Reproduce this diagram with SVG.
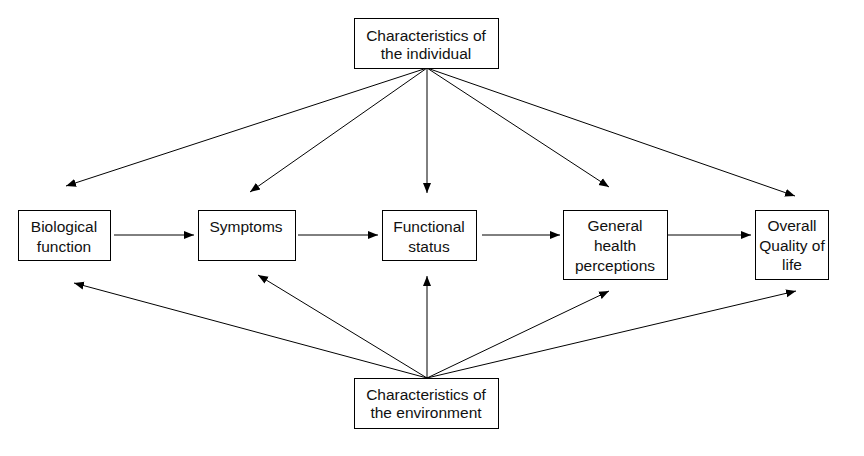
<svg xmlns="http://www.w3.org/2000/svg" width="864" height="456" viewBox="0 0 864 456">
<style>
rect{fill:#fff;stroke:#000;stroke-width:1}
text{font-family:"Liberation Sans",Arial,sans-serif;font-size:15.5px;fill:#111;text-anchor:middle}
.c line{stroke:#000;stroke-width:1;marker-end:url(#a)}
</style>
<defs>
<marker id="a" viewBox="0 0 10 10" refX="10" refY="5" markerWidth="10" markerHeight="10" markerUnits="userSpaceOnUse" orient="auto">
<path d="M0,1 L10,5 L0,9 Z" fill="#000"/>
</marker>
</defs>
<rect x="0" y="0" width="864" height="456" style="stroke:none"/>
<g class="c">
<line x1="427" y1="68" x2="66" y2="186"/>
<line x1="427" y1="68" x2="250" y2="192"/>
<line x1="427" y1="68" x2="427" y2="193"/>
<line x1="427" y1="68" x2="609" y2="187"/>
<line x1="427" y1="68" x2="795" y2="196"/>
<line x1="427" y1="378" x2="74" y2="283"/>
<line x1="427" y1="378" x2="258" y2="275"/>
<line x1="427" y1="378" x2="427" y2="276"/>
<line x1="427" y1="378" x2="609" y2="291"/>
<line x1="427" y1="378" x2="796" y2="291"/>
<line x1="114" y1="235" x2="194" y2="235"/>
<line x1="298" y1="235" x2="378" y2="235"/>
<line x1="482" y1="235" x2="560" y2="235"/>
<line x1="667" y1="235" x2="751" y2="235"/>
</g>
<g id="individual"><rect x="354.5" y="18.5" width="144" height="50"/><text x="426" y="41">Characteristics of</text><text x="426" y="59">the individual</text></g>
<g id="biological"><rect x="18.5" y="210.5" width="92" height="50"/><text x="64" y="232">Biological</text><text x="64" y="252">function</text></g>
<g id="symptoms"><rect x="198.5" y="210.5" width="97" height="50"/><text x="246" y="232">Symptoms</text></g>
<g id="functional"><rect x="382.5" y="210.5" width="94" height="50"/><text x="429" y="232">Functional</text><text x="429" y="252">status</text></g>
<g id="general"><rect x="563.5" y="210.5" width="104" height="69"/><text x="615" y="231">General</text><text x="615" y="251">health</text><text x="615" y="271">perceptions</text></g>
<g id="overall"><rect x="755.5" y="210.5" width="73" height="69"/><text x="792" y="231">Overall</text><text x="792" y="251">Quality of</text><text x="792" y="270">life</text></g>
<g id="environment"><rect x="354.5" y="378.5" width="144" height="50"/><text x="426" y="400">Characteristics of</text><text x="426" y="418">the environment</text></g>
</svg>
